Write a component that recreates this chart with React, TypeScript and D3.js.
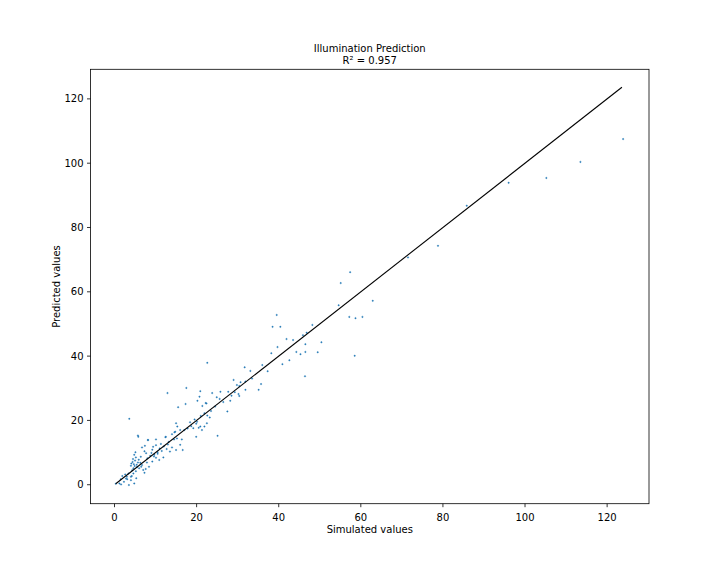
import React from "react";
import * as d3 from "d3";

const simulated: number[] = [
  123.9, 113.5, 105.2, 96.0, 85.8, 78.8, 71.5,
  57.4, 55.1, 54.6, 62.9, 57.2, 58.7, 60.4, 58.5, 39.5, 38.5, 40.4, 48.2, 45.9, 46.8, 46.5, 50.4, 41.9, 39.7, 38.2, 44.3, 45.3, 46.5, 49.5, 42.6, 40.9, 46.4, 22.6, 31.7, 33.1, 37.3, 35.7, 35.1, 29.0, 30.7, 31.9, 30.4, 31.9, 29.3, 30.2, 25.8, 27.7, 25.6, 27.5, 22.2, 20.9, 20.7, 21.4, 22.6, 23.2, 25.1, 20.9,
  12.9, 17.5, 20.2, 22.4, 17.3, 15.5, 21.9, 15.0, 14.6, 12.5, 19.9, 20.5, 21.3, 19.2, 21.9, 22.5, 15.2, 16.4, 5.8, 3.6, 8.1, 24.9, 23.8, 29.8, 30.4, 28.2, 20.1, 18.4, 17.0, 16.0, 14.8, 14.0, 15.3, 19.9, 13.2, 11.3, 10.1, 9.2, 12.4, 10.1, 13.5, 14.0, 12.7, 15.0, 16.0, 16.6,
  5.7, 8.2, 7.4, 9.4, 6.7, 4.8, 5.2, 7.7, 8.7, 9.7, 10.5, 6.4, 4.4, 5.7, 4.0, 4.9, 4.6, 6.0, 6.7, 7.9, 8.4, 9.2, 10.1, 7.0, 7.6, 4.6, 4.2, 5.3, 4.0, 3.1, 1.5, 2.3, 1.2, 0.3, 3.5, 4.8, 2.6, 3.4, 3.0, 7.3, 5.1, 10.9, 11.9, 9.6, 10.5, 11.5, 7.3, 1.6, 2.8, 4.0, 1.9,
  4.3, 4.7, 5.0, 5.4, 4.5, 5.5, 5.9, 6.3, 5.2, 4.1, 6.5, 8.0, 9.0, 11.0, 12.0, 13.0, 14.5, 17.8, 18.7, 19.5, 21.0, 23.5, 24.5, 26.5, 28.5, 33.5, 36.0, 43.5,
];

const predicted: number[] = [
  107.5, 100.4, 95.4, 93.9, 86.8, 74.3, 70.7,
  66.1, 62.7, 55.8, 57.2, 52.2, 51.8, 52.2, 40.1, 52.8, 49.1, 49.1, 49.7, 46.5, 47.3, 43.7, 44.3, 45.3, 42.8, 40.9, 41.3, 40.6, 41.3, 41.2, 38.7, 37.5, 33.7, 37.9, 36.5, 35.4, 35.3, 31.3, 29.5, 32.6, 31.9, 32.1, 30.7, 29.5, 28.8, 28.2, 28.9, 28.9, 26.7, 22.8, 25.4, 29.1, 27.4, 24.5, 21.5, 20.9, 15.2, 18.1,
  28.5, 30.1, 26.1, 25.3, 25.1, 24.1, 22.2, 19.1, 16.3, 14.9, 19.0, 17.7, 17.0, 17.6, 18.1, 19.1, 14.4, 14.1, 14.9, 20.5, 13.9, 27.2, 28.5, 31.0, 27.6, 26.1, 19.6, 19.4, 17.0, 17.0, 16.5, 15.7, 18.1, 14.9, 13.3, 12.7, 12.3, 10.9, 14.8, 14.1, 10.3, 11.6, 11.1, 10.8, 12.4, 10.8,
  15.3, 13.9, 12.1, 11.8, 11.6, 9.3, 8.5, 9.8, 9.0, 9.3, 10.1, 8.7, 7.1, 6.9, 5.9, 5.8, 5.1, 5.1, 6.1, 6.9, 5.6, 7.2, 8.4, 4.6, 4.9, 3.5, 2.7, 2.0, 1.4, 1.7, 1.7, 0.9, 0.4, 0.3, -0.1, 0.4, 3.2, 3.5, 2.5, 10.4, 10.1, 7.7, 8.5, 8.8, 9.6, 10.5, 3.7, 0.1, 1.9, 2.5, 2.7,
  4.5, 6.4, 7.5, 6.2, 8.0, 5.5, 7.8, 6.8, 4.2, 6.6, 5.6, 8.2, 9.9, 11.3, 11.9, 12.5, 14.1, 17.5, 18.2, 20.3, 21.4, 22.9, 24.3, 25.7, 27.7, 33.0, 37.2, 45.0,
];

const lineEnds: number[] = [0.3, 123.6];
const xTicks: number[] = [0, 20, 40, 60, 80, 100, 120];
const yTicks: number[] = [0, 20, 40, 60, 80, 100, 120];
const titleLines: string[] = ["Illumination Prediction", "R\u00b2 = 0.957"];

const W = 720;
const H = 576;
const L = 90.5;
const R = 649;
const T = 69.3;
const B = 503.7;
const FONT = "DejaVu Sans, sans-serif";

export default function App() {
  const x = d3.scaleLinear().domain([-5.85, 130.2]).range([L, R]);
  const y = d3.scaleLinear().domain([-5.9, 129.2]).range([B, T]);
  const line = d3
    .line<number>()
    .x((d) => x(d))
    .y((d) => y(d));
  const cx = (L + R) / 2;
  const cy = (T + B) / 2;
  return (
    <svg
      width={W}
      height={H}
      style={{ position: "absolute", left: 0, top: 0 }}
      fontFamily={FONT}
    >
      <rect x={0} y={0} width={W} height={H} fill="#ffffff" />
      {simulated.map((sx, i) => (
        <circle
          key={i}
          cx={x(sx)}
          cy={y(predicted[i])}
          r={0.75}
          fill="#1f77b4"
          stroke="#1f77b4"
          strokeWidth={0.35}
        />
      ))}
      <path d={line(lineEnds) || ""} stroke="#000" strokeWidth={1.1} fill="none" />
      <rect
        x={L}
        y={T}
        width={R - L}
        height={B - T}
        fill="none"
        stroke="#000"
        strokeWidth={0.8}
      />
      {xTicks.map((t) => (
        <g key={"x" + t}>
          <line x1={x(t)} x2={x(t)} y1={B} y2={B + 3.5} stroke="#000" strokeWidth={0.8} />
          <text x={x(t)} y={B + 17} fontSize={10} textAnchor="middle" fill="#000">
            {t}
          </text>
        </g>
      ))}
      {yTicks.map((t) => (
        <g key={"y" + t}>
          <line x1={L - 3.5} x2={L} y1={y(t)} y2={y(t)} stroke="#000" strokeWidth={0.8} />
          <text
            x={L - 7}
            y={y(t)}
            dy="0.35em"
            fontSize={10}
            textAnchor="end"
            fill="#000"
          >
            {t}
          </text>
        </g>
      ))}
      <text x={cx} y={B + 29} fontSize={10} textAnchor="middle" fill="#000">
        Simulated values
      </text>
      <text
        transform={`translate(${L - 31},${cy}) rotate(-90)`}
        fontSize={10}
        textAnchor="middle"
        fill="#000"
      >
        Predicted values
      </text>
      {titleLines.map((s, i) => (
        <text key={s} x={cx} y={51.5 + i * 12} fontSize={10} textAnchor="middle" fill="#000">
          {s}
        </text>
      ))}
    </svg>
  );
}
